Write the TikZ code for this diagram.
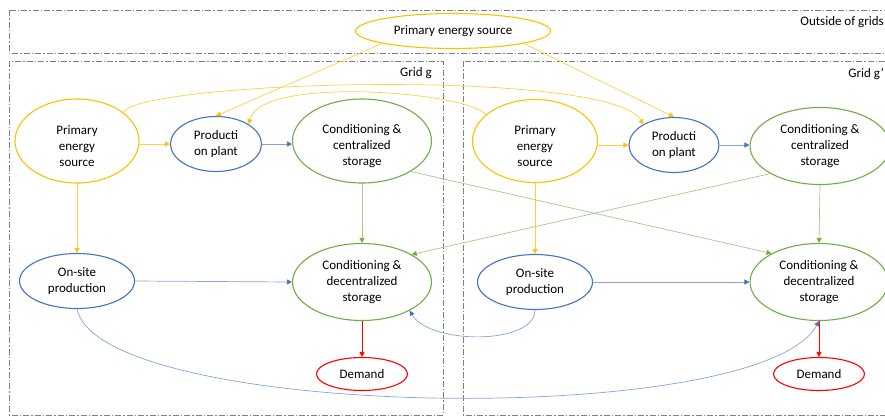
\documentclass[tikz,border=0pt]{standalone}
\usepackage{fontspec}
\setmainfont{Carlito}
\usetikzlibrary{shapes.geometric,arrows.meta}
\definecolor{cYel}{HTML}{FFC000}
\definecolor{cBlu}{HTML}{4472C4}
\definecolor{cGrn}{HTML}{70AD47}
\definecolor{cRed}{HTML}{FF0000}
\definecolor{cBox}{HTML}{808080}

\tikzset{
  bubble/.style={ellipse, draw, line width=1.1pt, inner sep=0pt, align=center,
    font=\fontsize{13}{16}\selectfont, text=black},
  yel/.style={bubble, draw=cYel},
  blu/.style={bubble, draw=cBlu},
  grn/.style={bubble, draw=cGrn},
  rd/.style={bubble, draw=cRed},
  % text set a little below the centre of its ellipse
  lowtext/.style={label={[align=center, font=\fontsize{13}{16}\selectfont,
    text=black, inner sep=0pt, yshift=-5pt]center:#1}},
  region/.style={draw=cBox, line width=0.9pt, dash pattern=on 6pt off 2pt on 1.5pt off 2pt},
  tag/.style={font=\fontsize{13}{16}\selectfont, text=black, inner sep=0pt},
  flowY/.style={draw=cYel!75, line width=0.7pt, -{Triangle[length=5pt,width=5pt,color=cYel]}},
  flowB/.style={draw=cBlu!65, line width=0.7pt, -{Triangle[length=5pt,width=5pt,color=cBlu]}},
  flowG/.style={draw=cGrn!65, line width=0.7pt, -{Triangle[length=5pt,width=5pt,color=cGrn]}},
  flowR/.style={draw=cRed, line width=0.7pt, -{Triangle[length=5pt,width=5pt,color=cRed]}},
}

\begin{document}
\begin{tikzpicture}[x=1pt,y=-1pt]
\useasboundingbox (0,0) rectangle (885,416);
\clip (0,0) rectangle (885,416);

% system boundaries
\draw[region] (9,10) rectangle (895,53);
\draw[region] (9,61) rectangle (443,415);
\draw[region] (463,61) rectangle (895,415);
\node[tag, anchor=east] (lblout) at (884,22) {Outside of grids};
\node[tag, anchor=east] (lblg) at (432,73) {Grid g};
\node[tag, anchor=east] (lblgp) at (884,74) {Grid g’};

% shared source
\node[yel, minimum width=195pt, minimum height=35pt] (top) at (453,31) {Primary energy source};

% grid g
\node[yel, minimum width=124pt, minimum height=84pt,
  lowtext={Primary\\energy\\source}] (lpes) at (77,141) {};
\node[blu, minimum width=91pt, minimum height=55pt] (lprod) at (216,144) {Producti\\on plant};
\node[grn, minimum width=139pt, minimum height=84pt,
  lowtext={Conditioning \&\\centralized\\storage}] (lcc) at (362,141) {};
\node[blu, minimum width=115pt, minimum height=55pt] (lon) at (77,281) {On-site\\production};
\node[grn, minimum width=139pt, minimum height=77pt] (lcd) at (362,282) {Conditioning \&\\decentralized\\storage};
\node[rd, minimum width=91pt, minimum height=33pt] (ldem) at (362,374) {Demand};

% grid g'
\node[yel, minimum width=125pt, minimum height=83pt,
  lowtext={Primary\\energy\\source}] (rpes) at (535,141) {};
\node[blu, minimum width=90pt, minimum height=55pt] (rprod) at (674,145) {Producti\\on plant};
\node[grn, minimum width=140pt, minimum height=77pt] (rcc) at (820,146) {Conditioning \&\\centralized\\storage};
\node[blu, minimum width=115pt, minimum height=55pt] (ron) at (535,282) {On-site\\production};
\node[grn, minimum width=138pt, minimum height=77pt] (rcd) at (819,282) {Conditioning \&\\decentralized\\storage};
\node[rd, minimum width=91pt, minimum height=33pt] (rdem) at (819,374) {Demand};

% flows from the shared source
\draw[flowY] (top.190) -- (lprod.north);
\draw[flowY] (top.350) -- (rprod.north);

% cross-grid supply of primary energy
\draw[flowY] (lpes.32) .. controls (145,80) and (610,68) .. (rprod.146);
\draw[flowY] (rpes.152) .. controls (470,92) and (260,75) .. (lprod.31);

% grid g internal flows
\draw[flowY] (lpes.east |- lprod.west) -- (lprod.west);
\draw[flowB] (lprod.east) -- (lprod.east -| lcc.west);
\draw[flowY] (lpes.south) -- (lon.north);
\draw[flowG] (lcc.south) -- (lcd.north);
\draw[flowB] (lon.east) -- (lcd.west);
\draw[flowR] (lcd.south) -- (ldem.north);

% grid g' internal flows
\draw[flowY] (rpes.east |- rprod.west) -- (rprod.west);
\draw[flowB] (rprod.east) -- (rprod.east -| rcc.west);
\draw[flowY] (rpes.south) -- (ron.north);
\draw[flowG] (rcc.south) -- (rcd.north);
\draw[flowB] (ron.east) -- (rcd.west);
\draw[flowR] (rcd.south) -- (rdem.north);

% cross-grid storage links
\draw[flowG] (lcc.-32) -- (rcd.149);
\draw[flowG] (rcc.209) -- (lcd.29);

% cross-grid on-site production
\draw[flowB] (ron.south) .. controls (535,345) and (430,345) .. (lcd.-31);
\draw[flowB] (lon.south) .. controls (100,420) and (760,430) .. (rcd.south);
\end{tikzpicture}
\end{document}
